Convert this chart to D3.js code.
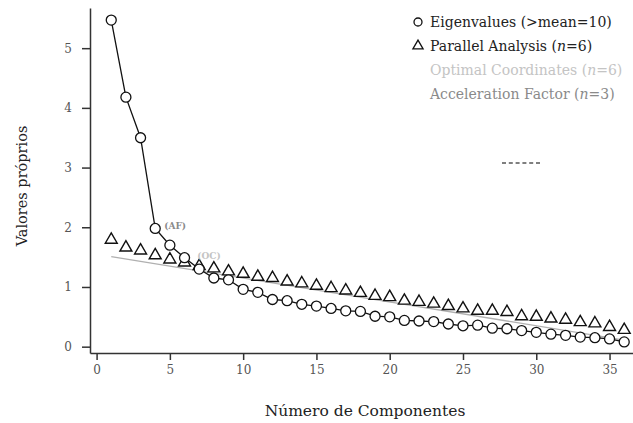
<!DOCTYPE html>
<html>
<head>
<meta charset="utf-8">
<script src="https://cdn.jsdelivr.net/npm/d3@7"></script>
<style>
  body { margin: 0; background: #fff; }
  svg { display: block; font-family: "DejaVu Serif", serif; }
</style>
</head>
<body>
<svg id="chart" width="633" height="423"></svg>
<script>
// eigenvalues of the 36 components
const components = d3.range(1, 37);
const eigenvalues = [5.47, 4.18, 3.50, 1.98, 1.70, 1.49, 1.30, 1.15, 1.12, 0.96,
  0.91, 0.79, 0.77, 0.71, 0.68, 0.64, 0.60, 0.59, 0.51, 0.50,
  0.44, 0.43, 0.42, 0.38, 0.35, 0.36, 0.31, 0.30, 0.27, 0.24,
  0.21, 0.19, 0.16, 0.15, 0.13, 0.08];
// parallel analysis
const parallel = [1.79, 1.66, 1.61, 1.53, 1.46, 1.41, 1.35, 1.31, 1.26, 1.22,
  1.17, 1.15, 1.09, 1.06, 1.02, 0.98, 0.94, 0.90, 0.85, 0.83,
  0.77, 0.75, 0.72, 0.68, 0.64, 0.60, 0.60, 0.58, 0.51, 0.50,
  0.47, 0.45, 0.41, 0.39, 0.33, 0.28];
// optimal coordinates line (start / end)
const ocLine = [[1, 1.51], [36, 0.11]];
const xTicks = [0, 5, 10, 15, 20, 25, 30, 35];
const yTicks = [0, 1, 2, 3, 4, 5];
const legendItems = [
  {sym: "circle", text: "Eigenvalues (>mean=10)", color: "#222"},
  {sym: "triangle", text: "Parallel Analysis (", n: "n", rest: "=6)", color: "#222"},
  {sym: null, text: "Optimal Coordinates (", n: "n", rest: "=6)", color: "#c4c4c4"},
  {sym: null, text: "Acceleration Factor (", n: "n", rest: "=3)", color: "#8a8a8a"}
];

const svg = d3.select("#chart");

const x = d3.scaleLinear().domain([-0.45, 36.6]).range([90, 633]);
const y = d3.scaleLinear().domain([-0.106, 5.673]).range([353, 8]);

// axes
const xAxis = svg.append("g")
  .attr("transform", "translate(0,353)")
  .call(d3.axisBottom(x).tickValues(xTicks).tickSize(7).tickSizeOuter(0).tickPadding(5));
const yAxis = svg.append("g")
  .attr("transform", "translate(90,0)")
  .call(d3.axisLeft(y).tickValues(yTicks).tickFormat(d3.format("d")).tickSize(8).tickSizeOuter(0).tickPadding(10));

[xAxis, yAxis].forEach(a => {
  a.select(".domain").attr("stroke", "#333").attr("stroke-width", 1.5);
  a.selectAll(".tick line").attr("stroke", "#333").attr("stroke-width", 1.5);
  a.selectAll(".tick text")
    .attr("fill", "#555")
    .attr("font-size", 12)
    .attr("font-family", "DejaVu Serif, serif");
});

svg.append("text")
  .attr("x", 365)
  .attr("y", 416)
  .attr("text-anchor", "middle")
  .attr("font-size", 15.5)
  .attr("fill", "#222")
  .text("Número de Componentes");

svg.append("text")
  .attr("transform", "translate(27,186) rotate(-90)")
  .attr("text-anchor", "middle")
  .attr("font-size", 14.5)
  .attr("fill", "#222")
  .text("Valores próprios");

// optimal coordinates line
svg.append("path")
  .attr("fill", "none")
  .attr("stroke", "#b0b0b0")
  .attr("stroke-width", 1.3)
  .attr("d", d3.line().x(d => x(d[0])).y(d => y(d[1]))(ocLine));

// eigenvalue line
svg.append("path")
  .attr("fill", "none")
  .attr("stroke", "#111")
  .attr("stroke-width", 1.3)
  .attr("d", d3.line().x((d, i) => x(components[i])).y(d => y(d))(eigenvalues));

const tri = d3.symbol().type(d3.symbolTriangle).size(62);

svg.append("g")
  .selectAll("path")
  .data(parallel)
  .join("path")
  .attr("transform", (d, i) => `translate(${x(components[i])},${y(d)})`)
  .attr("d", tri)
  .attr("fill", "#fff")
  .attr("stroke", "#111")
  .attr("stroke-width", 1.4);

svg.append("g")
  .selectAll("circle")
  .data(eigenvalues)
  .join("circle")
  .attr("cx", (d, i) => x(components[i]))
  .attr("cy", d => y(d))
  .attr("r", 5)
  .attr("fill", "#fff")
  .attr("stroke", "#111")
  .attr("stroke-width", 1.3);

// AF / OC labels
svg.append("text")
  .attr("x", x(4) + 9)
  .attr("y", y(eigenvalues[3]) + 1)
  .attr("font-size", 9)
  .attr("font-weight", "bold")
  .attr("fill", "#8a8a8a")
  .text("(AF)");

svg.append("text")
  .attr("x", x(7) - 2)
  .attr("y", y(eigenvalues[6]) - 10)
  .attr("font-size", 9)
  .attr("font-weight", "bold")
  .attr("fill", "#c4c4c4")
  .text("(OC)");

// legend
const legend = svg.append("g").attr("transform", "translate(418,22)");
legendItems.forEach((item, i) => {
  const g = legend.append("g").attr("transform", `translate(0,${i * 24})`);
  if (item.sym === "circle") {
    g.append("circle").attr("r", 4).attr("fill", "#fff").attr("stroke", "#111").attr("stroke-width", 1.3);
  } else if (item.sym === "triangle") {
    g.append("path").attr("d", d3.symbol().type(d3.symbolTriangle).size(45)).attr("fill", "#fff")
      .attr("stroke", "#111").attr("stroke-width", 1.3);
  }
  const t = g.append("text")
    .attr("x", 12)
    .attr("y", 5)
    .attr("font-size", 14)
    .attr("fill", item.color);
  t.append("tspan").text(item.text);
  if (item.n) {
    t.append("tspan").attr("font-style", "italic").text(item.n);
    t.append("tspan").text(item.rest);
  }
});

// small dashed line
svg.append("line")
  .attr("x1", 502).attr("x2", 540)
  .attr("y1", 163).attr("y2", 163)
  .attr("stroke", "#555")
  .attr("stroke-width", 1.3)
  .attr("stroke-dasharray", "4,2.8");
</script>
</body>
</html>
